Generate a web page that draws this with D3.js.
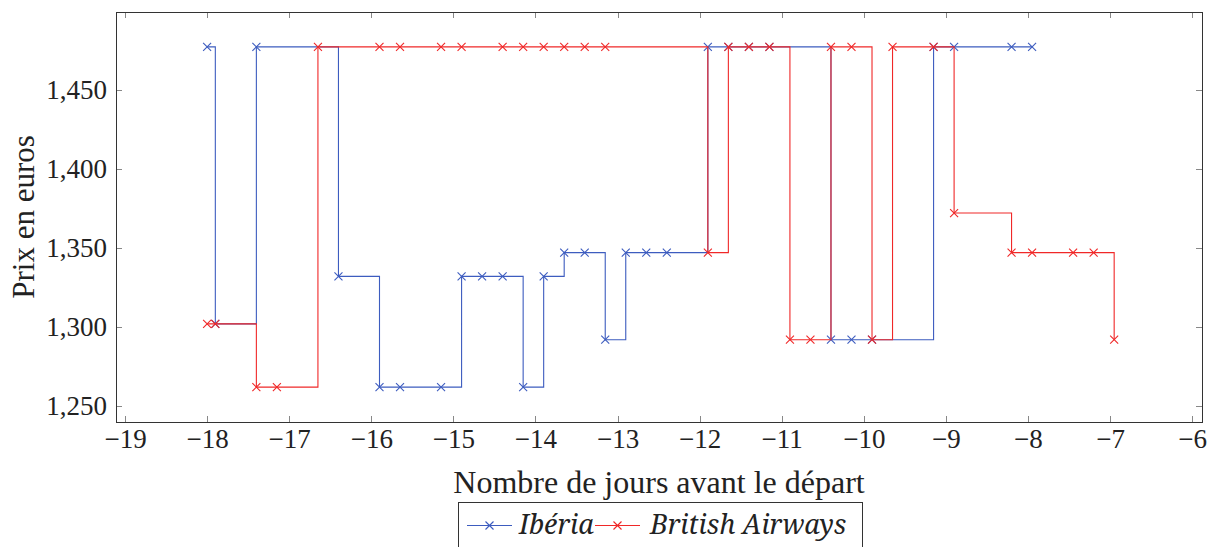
<!DOCTYPE html>
<html>
<head>
<meta charset="utf-8">
<script src="https://cdn.jsdelivr.net/npm/d3@7"></script>
<style>
  body { margin: 0; background: #fff; }
</style>
</head>
<body>
<div id="chart"></div>
<script>
// Data (days before departure, price in euros)
const iberiaDays = [-18, -17.9, -17.4, -16.4, -15.9, -15.65, -15.15, -14.9, -14.65, -14.4, -14.15, -13.9,
  -13.65, -13.4, -13.15, -12.9, -12.65, -12.4, -11.9, -11.65, -11.4, -11.15, -10.4, -10.15, -9.9,
  -9.15, -8.9, -8.2, -7.95];
const iberiaPrices = [1477, 1302, 1477, 1332, 1262, 1262, 1262, 1332, 1332, 1332, 1262, 1332,
  1347, 1347, 1292, 1347, 1347, 1347, 1477, 1477, 1477, 1477, 1292, 1292, 1292,
  1477, 1477, 1477, 1477];

const britishDays = [-18, -17.9, -17.4, -17.15, -16.65, -15.9, -15.65, -15.15, -14.9, -14.4, -14.15,
  -13.9, -13.65, -13.4, -13.15, -11.9, -11.65, -11.4, -11.15, -10.9, -10.65, -10.4, -10.15, -9.9,
  -9.65, -9.15, -8.9, -8.2, -7.95, -7.45, -7.2, -6.95];
const britishPrices = [1302, 1302, 1262, 1262, 1477, 1477, 1477, 1477, 1477, 1477, 1477,
  1477, 1477, 1477, 1477, 1347, 1477, 1477, 1477, 1292, 1292, 1477, 1477, 1292,
  1477, 1477, 1372, 1347, 1347, 1347, 1347, 1292];

const xTicks = d3.range(-19, -5, 1);
const yTicks = [1250, 1300, 1350, 1400, 1450];

const series = [
  { name: "Ibéria", color: "#3d5cbf", values: iberiaDays.map((d, i) => ({ x: d, y: iberiaPrices[i] })) },
  { name: "British Airways", color: "#f02828", values: britishDays.map((d, i) => ({ x: d, y: britishPrices[i] })) }
];

const SERIF = "'Liberation Serif', 'Times New Roman', serif";
const ITALIC = "'Noto Serif', 'DejaVu Serif', serif";

// Dimensions and margins
const W = 1219, H = 547;
const margin = { top: 12, right: 17, bottom: 125, left: 116 };
const width = W - margin.left - margin.right;
const height = H - margin.top - margin.bottom;

const svg = d3.select("#chart").append("svg")
  .attr("width", W)
  .attr("height", H);

const g = svg.append("g")
  .attr("transform", `translate(${margin.left},${margin.top})`);

// Scales
const x = d3.scaleLinear().domain([-19.11, -5.88]).range([0, width]);
const y = d3.scaleLinear().domain([1240, 1499]).range([height, 0]);

// Ticks drawn inside on all four sides (pgfplots style)
const tickLen = 6;
const ticks = g.append("g").attr("stroke", "#888").attr("stroke-width", 1);
xTicks.forEach(t => {
  const px = Math.round(x(t)) + 0.5;
  ticks.append("line").attr("x1", px).attr("x2", px).attr("y1", height).attr("y2", height - tickLen);
  ticks.append("line").attr("x1", px).attr("x2", px).attr("y1", 0).attr("y2", tickLen);
});
yTicks.forEach(t => {
  const py = Math.round(y(t)) + 0.5;
  ticks.append("line").attr("x1", 0).attr("x2", tickLen).attr("y1", py).attr("y2", py);
  ticks.append("line").attr("x1", width).attr("x2", width - tickLen).attr("y1", py).attr("y2", py);
});

// Axes labels via d3 axes (no domain line, no tick lines)
const xAxis = g.append("g")
  .attr("transform", `translate(0,${height})`)
  .call(d3.axisBottom(x).tickValues(xTicks).tickSize(0).tickPadding(7)
    .tickFormat(d => d < 0 ? "\u2212" + Math.abs(d) : d));
xAxis.select(".domain").remove();
xAxis.selectAll("text").style("font-size", "27px").style("font-family", SERIF).attr("fill", "#222");

const yAxis = g.append("g")
  .call(d3.axisLeft(y).tickValues(yTicks).tickSize(0).tickPadding(9).tickFormat(d3.format(",")));
yAxis.select(".domain").remove();
yAxis.selectAll("text").style("font-size", "27px").style("font-family", SERIF).attr("fill", "#222");

// Axis titles
g.append("text")
  .attr("text-anchor", "middle")
  .attr("x", width / 2)
  .attr("y", height + 71)
  .style("font-size", "32px")
  .style("font-family", SERIF)
  .attr("fill", "#222")
  .text("Nombre de jours avant le départ");

g.append("text")
  .attr("text-anchor", "middle")
  .attr("transform", "rotate(-90)")
  .attr("x", -height / 2)
  .attr("y", -margin.left + 34)
  .style("font-size", "31px")
  .style("font-family", SERIF)
  .attr("fill", "#222")
  .text("Prix en euros");

// Step lines
const line = d3.line()
  .x(d => x(d.x))
  .y(d => y(d.y))
  .curve(d3.curveStepAfter);

const cross = (sel, color) => sel.append("path")
  .attr("d", "M-4,-4L4,4M-4,4L4,-4")
  .attr("stroke", color)
  .attr("stroke-width", 1.1)
  .attr("fill", "none");

series.forEach(s => {
  g.append("path")
    .attr("d", line(s.values))
    .attr("fill", "none")
    .attr("stroke", s.color)
    .attr("stroke-width", 1.1);
  s.values.forEach(v => {
    const m = g.append("g").attr("transform", `translate(${x(v.x)},${y(v.y)})`);
    cross(m, s.color);
  });
});

// Frame
g.append("rect")
  .attr("x", 0.5).attr("y", 0.5)
  .attr("width", width).attr("height", height)
  .attr("fill", "none")
  .attr("stroke", "#333")
  .attr("stroke-width", 1);

// Legend
const legend = svg.append("g").attr("transform", "translate(458,502)");
legend.append("rect")
  .attr("x", 0.5).attr("y", 0.5)
  .attr("width", 404).attr("height", 50)
  .attr("fill", "#fff")
  .attr("stroke", "#333");

const legendItems = [
  { s: series[0], x0: 9, tx: 61 },
  { s: series[1], x0: 137, tx: 192 }
];
legendItems.forEach(it => {
  legend.append("line")
    .attr("x1", it.x0).attr("x2", it.x0 + 45)
    .attr("y1", 23.5).attr("y2", 23.5)
    .attr("stroke", it.s.color).attr("stroke-width", 1.1);
  cross(legend.append("g").attr("transform", `translate(${it.x0 + 22.5},23.5)`), it.s.color);
  legend.append("text")
    .attr("x", it.tx)
    .attr("y", 32)
    .style("font-size", "27px")
    .style("font-style", "italic")
    .style("font-family", ITALIC)
    .attr("fill", "#222")
    .text(it.s.name);
});
</script>
</body>
</html>
